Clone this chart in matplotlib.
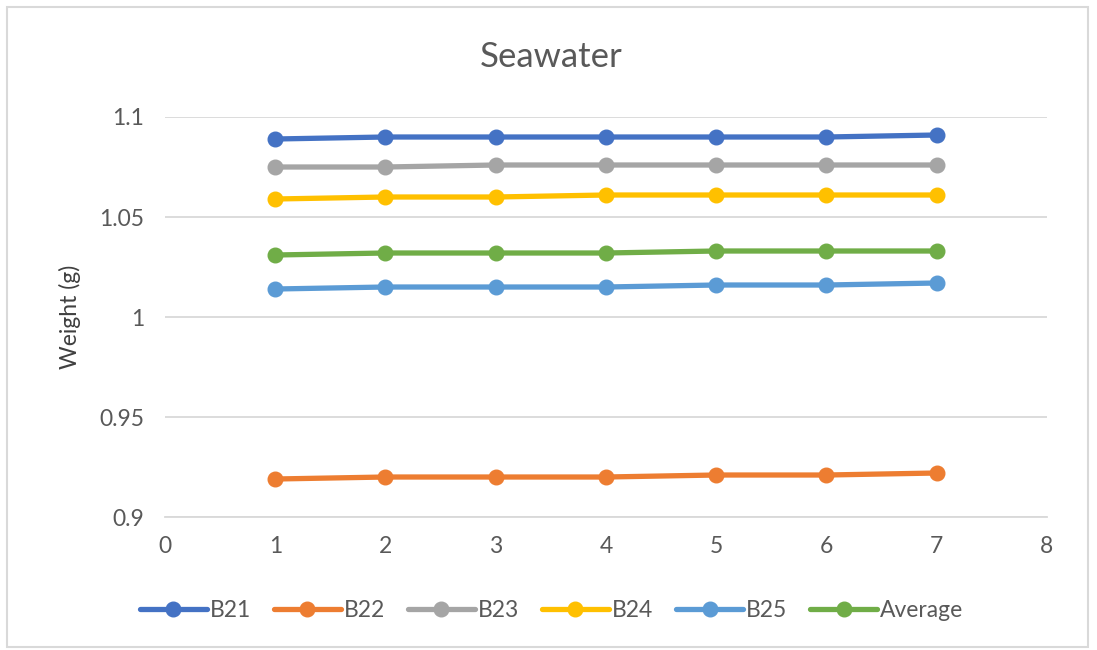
import matplotlib
matplotlib.use("Agg")
import matplotlib.pyplot as plt
from matplotlib.patches import Rectangle

plt.rcParams['font.family'] = ['Lato', 'DejaVu Sans']

days = [1, 2, 3, 4, 5, 6, 7]
b21 = [1.089, 1.090, 1.090, 1.090, 1.090, 1.090, 1.091]
b22 = [0.919, 0.920, 0.920, 0.920, 0.921, 0.921, 0.922]
b23 = [1.075, 1.075, 1.076, 1.076, 1.076, 1.076, 1.076]
b24 = [1.059, 1.060, 1.060, 1.061, 1.061, 1.061, 1.061]
b25 = [1.014, 1.015, 1.015, 1.015, 1.016, 1.016, 1.017]
average = [1.031, 1.032, 1.032, 1.032, 1.033, 1.033, 1.033]

series = [("B21", b21, "#4472C4"), ("B22", b22, "#ED7D31"), ("B23", b23, "#A5A5A5"),
          ("B24", b24, "#FFC000"), ("B25", b25, "#5B9BD5"), ("Average", average, "#70AD47")]

fig = plt.figure(figsize=(10.97, 6.5), dpi=100)
fig.patches.append(Rectangle((0.006, 0.005), 0.986, 0.985, transform=fig.transFigure,
                             fill=False, edgecolor="#D9D9D9", linewidth=1.5))
ax = fig.add_axes([0.1504, 0.2046, 0.804, 0.6154])

for name, vals, col in series:
    ax.plot(days, vals, color=col, linewidth=3.8, marker="o", markersize=10.5,
            label=name, solid_capstyle="round")

ax.set_xlim(0, 8)
ax.set_ylim(0.9, 1.1)
ax.set_xticks(range(0, 9))
ax.set_yticks([0.9, 0.95, 1.0, 1.05, 1.1])
ax.set_yticklabels(["0.9", "0.95", "1", "1.05", "1.1"])
ax.grid(axis="y", color="#D9D9D9", linewidth=1.3)
ax.set_axisbelow(True)
for s in ["left", "right", "top"]:
    ax.spines[s].set_visible(False)
ax.spines["bottom"].set_color("#D9D9D9")
ax.spines["bottom"].set_linewidth(1.3)
ax.tick_params(axis="both", length=0, labelsize=16.5, labelcolor="#595959")
ax.tick_params(axis="x", pad=14)
ax.tick_params(axis="y", pad=15)
ax.set_ylabel("Weight (g)", fontsize=16.5, color="#404040", labelpad=13)
fig.text(0.502, 0.912, "Seawater", ha="center", va="center", fontsize=25, color="#595959")

leg = fig.legend(loc="center", bbox_to_anchor=(0.503, 0.061), ncol=6, frameon=False,
                 fontsize=16.5, handlelength=2.9, columnspacing=1.0, handletextpad=0.15,
                 labelcolor="#595959")
plt.savefig("out.png", dpi=100)
